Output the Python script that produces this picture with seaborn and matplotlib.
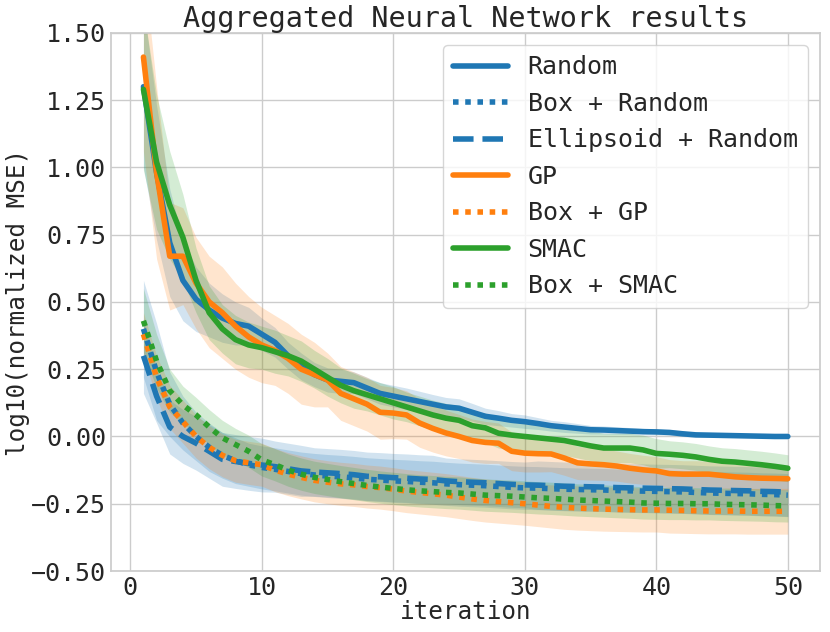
import numpy as np
import pandas as pd
import matplotlib
matplotlib.use("Agg")
import matplotlib.pyplot as plt
import seaborn as sns

# Values (log10 of normalized MSE per iteration)
iterations = list(range(1, 51))

random_mean = [1.30, 0.98, 0.72, 0.58, 0.51, 0.47, 0.44, 0.42, 0.41, 0.38,
               0.35, 0.30, 0.26, 0.23, 0.21, 0.205, 0.20, 0.18, 0.16, 0.15,
               0.14, 0.13, 0.12, 0.11, 0.105, 0.09, 0.075, 0.068, 0.06, 0.055,
               0.048, 0.04, 0.035, 0.03, 0.025, 0.024, 0.022, 0.02, 0.018, 0.017,
               0.015, 0.01, 0.006, 0.005, 0.004, 0.003, 0.002, 0.001, 0.0, 0.0]
box_random_mean = [0.40, 0.24, 0.12, 0.05, 0.0, -0.04, -0.07, -0.09, -0.105, -0.115,
                   -0.122, -0.13, -0.138, -0.143, -0.147, -0.15, -0.154, -0.159, -0.162, -0.165,
                   -0.167, -0.17, -0.172, -0.176, -0.179, -0.181, -0.183, -0.186, -0.189, -0.191,
                   -0.192, -0.194, -0.196, -0.197, -0.198, -0.199, -0.201, -0.202, -0.203, -0.204,
                   -0.205, -0.206, -0.208, -0.21, -0.211, -0.212, -0.213, -0.215, -0.216, -0.218]
ellipsoid_random_mean = [0.30, 0.15, 0.035, 0.0, -0.025, -0.055, -0.085, -0.093, -0.10, -0.106,
                         -0.112, -0.12, -0.128, -0.132, -0.135, -0.138, -0.142, -0.148, -0.15, -0.153,
                         -0.155, -0.158, -0.16, -0.165, -0.168, -0.17, -0.172, -0.175, -0.178, -0.18,
                         -0.181, -0.183, -0.185, -0.186, -0.187, -0.188, -0.19, -0.191, -0.192, -0.193,
                         -0.194, -0.195, -0.197, -0.199, -0.2, -0.201, -0.202, -0.204, -0.205, -0.207]
gp_mean = [1.41, 0.98, 0.67, 0.67, 0.57, 0.50, 0.46, 0.41, 0.37, 0.34,
           0.32, 0.29, 0.25, 0.23, 0.21, 0.16, 0.14, 0.12, 0.09, 0.087,
           0.08, 0.05, 0.03, 0.013, 0.0, -0.015, -0.022, -0.025, -0.055, -0.062,
           -0.064, -0.065, -0.08, -0.098, -0.102, -0.105, -0.11, -0.118, -0.124, -0.128,
           -0.138, -0.14, -0.14, -0.14, -0.145, -0.15, -0.153, -0.155, -0.156, -0.157]
box_gp_mean = [0.38, 0.22, 0.11, 0.055, 0.0, -0.04, -0.07, -0.09, -0.098, -0.105,
               -0.125, -0.14, -0.152, -0.163, -0.17, -0.176, -0.18, -0.186, -0.19, -0.196,
               -0.203, -0.208, -0.213, -0.218, -0.225, -0.232, -0.238, -0.242, -0.246, -0.25,
               -0.255, -0.26, -0.263, -0.266, -0.268, -0.27, -0.271, -0.272, -0.273, -0.273,
               -0.274, -0.275, -0.276, -0.277, -0.277, -0.277, -0.278, -0.278, -0.278, -0.278]
smac_mean = [1.29, 1.02, 0.86, 0.74, 0.58, 0.46, 0.40, 0.36, 0.34, 0.33,
             0.315, 0.30, 0.28, 0.25, 0.22, 0.19, 0.17, 0.155, 0.14, 0.125,
             0.11, 0.095, 0.08, 0.068, 0.06, 0.04, 0.032, 0.012, 0.005, 0.0,
             -0.005, -0.01, -0.015, -0.025, -0.035, -0.043, -0.043, -0.043, -0.05, -0.063,
             -0.066, -0.07, -0.076, -0.085, -0.092, -0.095, -0.1, -0.105, -0.111, -0.118]
box_smac_mean = [0.43, 0.28, 0.17, 0.117, 0.08, 0.035, -0.005, -0.03, -0.055, -0.087,
                 -0.105, -0.125, -0.14, -0.152, -0.16, -0.168, -0.175, -0.182, -0.188, -0.193,
                 -0.198, -0.202, -0.205, -0.208, -0.21, -0.214, -0.218, -0.22, -0.222, -0.225,
                 -0.228, -0.23, -0.233, -0.236, -0.238, -0.24, -0.242, -0.244, -0.247, -0.248,
                 -0.249, -0.249, -0.25, -0.25, -0.252, -0.253, -0.254, -0.255, -0.257, -0.258]

# half widths of the shaded bands
random_spread = [0.30, 0.25, 0.20, 0.15, 0.12, 0.10, 0.09, 0.08, 0.07, 0.06,
                 0.055, 0.05, 0.05, 0.045, 0.045, 0.045, 0.04, 0.04, 0.04, 0.04,
                 0.04, 0.038, 0.036, 0.035, 0.035, 0.033, 0.03, 0.028, 0.025, 0.025,
                 0.022, 0.02, 0.02, 0.018, 0.016, 0.015, 0.014, 0.013, 0.012, 0.011,
                 0.01, 0.01, 0.009, 0.008, 0.007, 0.006, 0.005, 0.005, 0.004, 0.004]
box_random_spread = [0.18, 0.18, 0.12, 0.10, 0.09, 0.09, 0.085, 0.085, 0.08, 0.08,
                     0.08, 0.08, 0.08, 0.08, 0.08, 0.08, 0.08, 0.08, 0.08, 0.08,
                     0.08, 0.08, 0.08, 0.08, 0.08, 0.08, 0.08, 0.08, 0.08, 0.08,
                     0.08, 0.08, 0.08, 0.08, 0.08, 0.08, 0.08, 0.08, 0.08, 0.08,
                     0.08, 0.08, 0.08, 0.08, 0.08, 0.08, 0.08, 0.08, 0.08, 0.08]
ellipsoid_random_spread = [0.14, 0.10, 0.10, 0.10, 0.10, 0.10, 0.10, 0.10, 0.10, 0.10,
                           0.095, 0.095, 0.095, 0.09, 0.09, 0.09, 0.09, 0.09, 0.09, 0.09,
                           0.09, 0.09, 0.09, 0.085, 0.085, 0.085, 0.085, 0.085, 0.085, 0.085,
                           0.09, 0.09, 0.09, 0.09, 0.09, 0.09, 0.09, 0.09, 0.09, 0.09,
                           0.09, 0.09, 0.09, 0.09, 0.09, 0.09, 0.09, 0.09, 0.09, 0.09]
gp_spread = [0.35, 0.32, 0.20, 0.18, 0.17, 0.17, 0.17, 0.16, 0.15, 0.14,
             0.13, 0.13, 0.13, 0.12, 0.10, 0.10, 0.10, 0.10, 0.10, 0.095,
             0.09, 0.09, 0.088, 0.085, 0.082, 0.08, 0.078, 0.075, 0.072, 0.07,
             0.068, 0.066, 0.064, 0.062, 0.06, 0.058, 0.056, 0.055, 0.054, 0.053,
             0.052, 0.05, 0.05, 0.048, 0.047, 0.046, 0.045, 0.044, 0.043, 0.042]
box_gp_spread = [0.08, 0.08, 0.08, 0.08, 0.08, 0.08, 0.08, 0.08, 0.08, 0.08,
                 0.08, 0.08, 0.08, 0.08, 0.08, 0.08, 0.08, 0.08, 0.08, 0.08,
                 0.08, 0.08, 0.08, 0.08, 0.08, 0.08, 0.08, 0.08, 0.08, 0.08,
                 0.08, 0.08, 0.082, 0.082, 0.082, 0.082, 0.082, 0.082, 0.082, 0.082,
                 0.085, 0.085, 0.085, 0.085, 0.085, 0.085, 0.085, 0.085, 0.085, 0.085]
smac_spread = [0.30, 0.25, 0.20, 0.16, 0.12, 0.10, 0.09, 0.09, 0.085, 0.08,
               0.08, 0.075, 0.075, 0.07, 0.07, 0.065, 0.065, 0.06, 0.06, 0.06,
               0.055, 0.055, 0.055, 0.055, 0.055, 0.055, 0.055, 0.055, 0.055, 0.055,
               0.055, 0.055, 0.055, 0.055, 0.055, 0.055, 0.055, 0.055, 0.055, 0.055,
               0.05, 0.05, 0.05, 0.05, 0.05, 0.05, 0.05, 0.05, 0.05, 0.05]
box_smac_spread = [0.12, 0.10, 0.08, 0.07, 0.065, 0.065, 0.065, 0.06, 0.06, 0.06,
                   0.06, 0.06, 0.06, 0.06, 0.06, 0.06, 0.06, 0.06, 0.06, 0.06,
                   0.06, 0.06, 0.06, 0.06, 0.06, 0.06, 0.06, 0.06, 0.06, 0.06,
                   0.06, 0.06, 0.06, 0.06, 0.06, 0.06, 0.06, 0.06, 0.06, 0.06,
                   0.06, 0.06, 0.06, 0.06, 0.06, 0.06, 0.06, 0.06, 0.06, 0.06]

methods = ['Random', 'Box + Random', 'Ellipsoid + Random', 'GP', 'Box + GP', 'SMAC', 'Box + SMAC']
means = [random_mean, box_random_mean, ellipsoid_random_mean, gp_mean, box_gp_mean, smac_mean, box_smac_mean]
spreads = [random_spread, box_random_spread, ellipsoid_random_spread, gp_spread, box_gp_spread,
           smac_spread, box_smac_spread]

colors = ['#1f77b4', '#1f77b4', '#1f77b4', '#ff7f0e', '#ff7f0e', '#2ca02c', '#2ca02c']
styles = ['-', (0, (1, 1.2)), '--', '-', (0, (1, 1.2)), '-', (0, (1, 1.2))]

sns.set_theme(style="whitegrid")
plt.rcParams['font.family'] = ['DejaVu Sans Mono']

fig, ax = plt.subplots(figsize=(8.3, 6.32), dpi=100)

for name, m, s, c, ls in zip(methods, means, spreads, colors, styles):
    df = pd.DataFrame({'iteration': iterations, 'value': m})
    lo = np.array(m) - np.array(s)
    hi = np.array(m) + np.array(s)
    ax.fill_between(iterations, lo, hi, color=c, alpha=0.2, linewidth=0)
    sns.lineplot(data=df, x='iteration', y='value', ax=ax, color=c, linestyle=ls,
                 linewidth=4, label=name)

ax.set_ylim(-0.5, 1.5)
ax.set_yticks(np.arange(-0.5, 1.51, 0.25))
ax.set_xticks([0, 10, 20, 30, 40, 50])
ax.tick_params(labelsize=18, length=0, pad=3.5)
ax.set_xlabel('iteration', fontsize=17.5, labelpad=0)
ax.set_ylabel('log10(normalized MSE)', fontsize=17.5, labelpad=1)
ax.set_title('Aggregated Neural Network results', fontsize=20.5, pad=4)
ax.legend(loc='upper right', fontsize=18, handlelength=2.2)

plt.subplots_adjust(left=0.134, right=0.988, top=0.948, bottom=0.0965)
plt.savefig('out.png')
